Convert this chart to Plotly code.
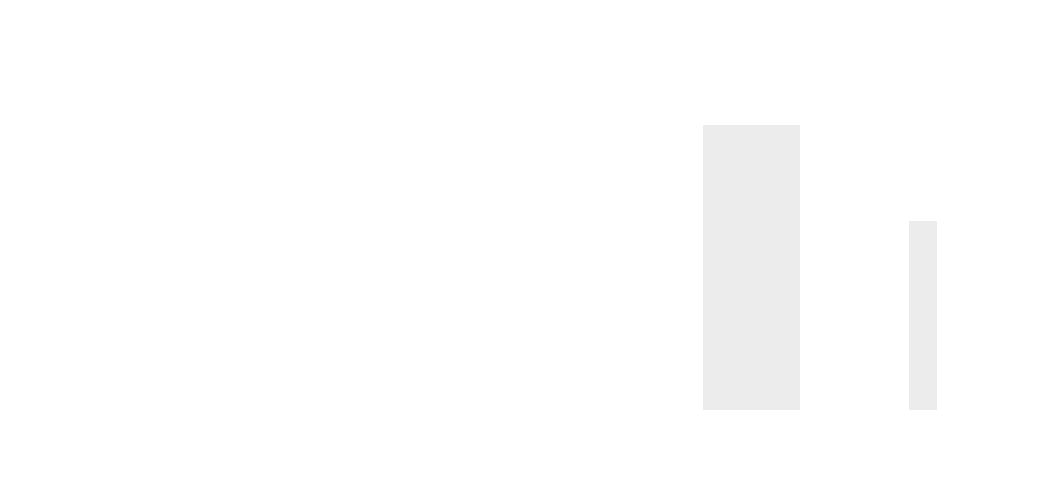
import plotly.graph_objects as go

# Two grey columns, no axes or labels visible
bar_positions = [75.15, 92.3]
bar_widths = [9.7, 2.8]
bar_values = [100, 66.3]

fig = go.Figure()
fig.add_trace(go.Bar(
    x=bar_positions,
    y=bar_values,
    width=bar_widths,
    marker=dict(color='#ececec', line=dict(width=0)),
    hoverinfo='skip',
))

# page body adds ~8px offset, so shift the plot area up/left
fig.update_layout(
    width=1042,
    height=501,
    margin=dict(l=0, r=0, t=117, b=99),
    plot_bgcolor='white',
    paper_bgcolor='white',
    showlegend=False,
)
fig.update_xaxes(range=[0.8, 105.0], visible=False)
fig.update_yaxes(range=[0, 100], visible=False)

fig.write_html("out.html")
